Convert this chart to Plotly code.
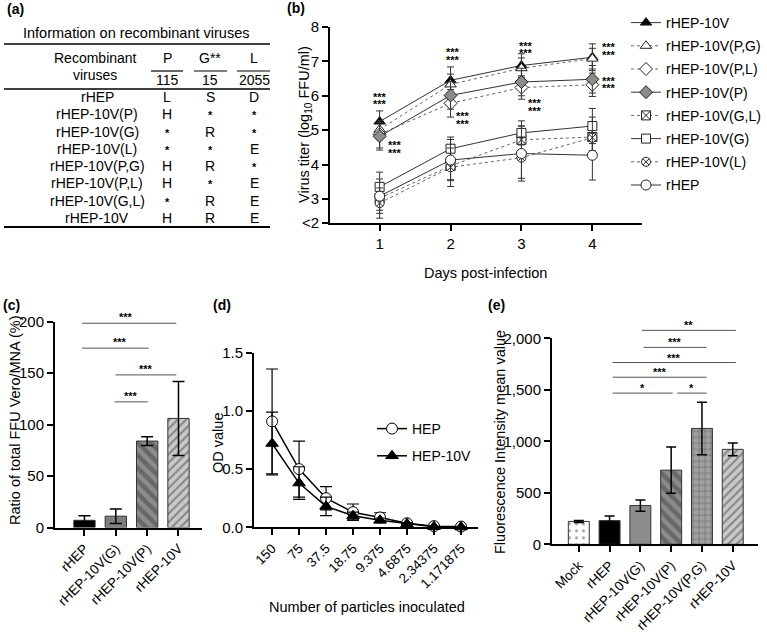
import plotly.graph_objects as go

W, H = 767, 634
FONT = "Liberation Sans, Arial, sans-serif"

def fx(px):
    return px / W

def fy(py):
    return 1 - py / H

# ---------------- (a) table data ----------------
table_title = "Information on recombinant viruses"
viruses = ["rHEP", "rHEP-10V(P)", "rHEP-10V(G)", "rHEP-10V(L)",
           "rHEP-10V(P,G)", "rHEP-10V(P,L)", "rHEP-10V(G,L)", "rHEP-10V"]
gene_headers = ["P", "G**", "L"]
gene_positions = ["115", "15", "2055"]
col_P = ["L", "H", "*", "*", "H", "H", "*", "H"]
col_G = ["S", "*", "R", "*", "R", "*", "R", "R"]
col_L = ["D", "*", "*", "E", "*", "E", "E", "E"]

# ---------------- (b) growth curves ----------------
days = [1, 2, 3, 4]
b_names = ["rHEP-10V", "rHEP-10V(P,G)", "rHEP-10V(P,L)", "rHEP-10V(P)",
           "rHEP-10V(G,L)", "rHEP-10V(G)", "rHEP-10V(L)", "rHEP"]
b_values = {
    "rHEP-10V":      [5.25, 6.45, 6.88, 7.12],
    "rHEP-10V(P,G)": [5.02, 6.33, 6.80, 7.08],
    "rHEP-10V(P,L)": [4.88, 5.78, 6.24, 6.32],
    "rHEP-10V(P)":   [4.82, 6.01, 6.40, 6.48],
    "rHEP-10V(G,L)": [3.02, 3.96, 4.72, 4.80],
    "rHEP-10V(G)":   [3.35, 4.46, 4.92, 5.12],
    "rHEP-10V(L)":   [2.88, 3.92, 4.20, 4.78],
    "rHEP":          [3.08, 4.13, 4.32, 4.27],
}
b_errors = {
    "rHEP-10V":      [0.31, 0.39, 0.34, 0.39],
    "rHEP-10V(P,G)": [0.25, 0.30, 0.30, 0.30],
    "rHEP-10V(P,L)": [0.40, 0.40, 0.34, 0.34],
    "rHEP-10V(P)":   [0.40, 0.40, 0.40, 0.40],
    "rHEP-10V(G,L)": [0.35, 0.40, 0.40, 0.40],
    "rHEP-10V(G)":   [0.43, 0.34, 0.35, 0.51],
    "rHEP-10V(L)":   [0.44, 0.56, 0.60, 0.60],
    "rHEP":          [0.50, 0.60, 0.80, 0.72],
}
b_yticks = [2.3, 3, 4, 5, 6, 7, 8]
b_yticktext = ["&lt;2", "3", "4", "5", "6", "7", "8"]
# significance marks (day position, star rows in log10 units)
b_sig_x = [1.0, 1.21, 2.03, 2.17, 3.06, 3.19, 4.23, 4.23]
b_sig_y = [[6.07, 5.87], [4.68, 4.43], [7.38, 7.15], [5.52, 5.29],
           [7.55, 7.34], [5.90, 5.67], [7.52, 7.29], [6.54, 6.33]]

# ---------------- (c) ratio bars ----------------
c_cats = ["rHEP", "rHEP-10V(G)", "rHEP-10V(P)", "rHEP-10V"]
c_vals = [7, 11, 84, 106]
c_errs = [4.5, 7, 4.2, 36]
# (start index, end index, level, star x, label)
c_sig = [(-0.08, 2.93, 198.5, 1.31, "***"), (-0.08, 2.05, 174.3, 1.12, "***"),
         (0.99, 2.93, 148.3, 1.96, "***"), (0.96, 2.02, 122.1, 1.49, "***")]

# ---------------- (d) OD curves ----------------
d_cats = ["150", "75", "37.5", "18.75", "9.375", "4.6875", "2.34375", "1.171875"]
d_hep = [0.91, 0.50, 0.25, 0.13, 0.085, 0.035, 0.01, 0.006]
d_hep_err = [0.45, 0.24, 0.10, 0.07, 0.04, 0.01, 0.005, 0.003]
d_hep10v = [0.72, 0.38, 0.18, 0.10, 0.06, 0.03, 0.005, 0.002]
d_hep10v_err = [0.27, 0.14, 0.08, 0.03, 0.02, 0.01, 0.004, 0.002]

# ---------------- (e) fluorescence bars ----------------
e_cats = ["Mock", "rHEP", "rHEP-10V(G)", "rHEP-10V(P)", "rHEP-10V(P,G)", "rHEP-10V"]
e_vals = [222, 230, 376, 720, 1125, 922]
e_errs = [10, 44, 55, 225, 255, 62]
e_sig = [(2.05, 5.1, 2077, "**"), (2.1, 4.15, 1912, "***"), (1.1, 5.1, 1765, "***"),
         (1.1, 4.15, 1622, "***"), (1.1, 3.05, 1468, "*"), (3.2, 4.15, 1468, "*")]

# axis placement (pixels) and ranges
B_X, B_Y = (330, 642), (223, 27)
B_XR, B_YR = [0.3, 4.7], [2.3, 8]
C_X, C_Y = (55, 202), (527.5, 321.7)
C_XR, C_YR = [-0.94, 3.75], [0, 200]
D_X, D_Y = (254, 478), (527.3, 352.7)
D_XR, D_YR = [-0.67, 7.63], [0, 1.5]
E_X, E_Y = (552, 758), (544.3, 338.3)
E_XR, E_YR = [-0.87, 5.82], [0, 2000]

def ydata_to_paper(v, ypx, yr):
    d0, d1 = fy(ypx[0]), fy(ypx[1])
    return d0 + (v - yr[0]) / (yr[1] - yr[0]) * (d1 - d0)

fig = go.Figure()

# ---- (b) traces ----
b_style = {
    "rHEP-10V":      dict(symbol="triangle-up", color="black", size=10, dash="solid"),
    "rHEP-10V(P,G)": dict(symbol="triangle-up", color="white", size=10, dash="dot"),
    "rHEP-10V(P,L)": dict(symbol="diamond", color="white", size=10, dash="dot"),
    "rHEP-10V(P)":   dict(symbol="diamond", color="#8c8c8c", size=10, dash="solid"),
    "rHEP-10V(G,L)": dict(symbol="square-x", color="white", size=9, dash="dot"),
    "rHEP-10V(G)":   dict(symbol="square", color="white", size=9, dash="solid"),
    "rHEP-10V(L)":   dict(symbol="circle-x", color="white", size=9, dash="dot"),
    "rHEP":          dict(symbol="circle", color="white", size=10, dash="solid"),
}
for i, name in enumerate(b_names):
    st = b_style[name]
    fig.add_trace(go.Scatter(
        x=days, y=b_values[name], name=name, mode="lines+markers",
        xaxis="x", yaxis="y", legend="legend", legendgroup=name,
        legendrank=i + 1,
        line=dict(color="#333333" if st["dash"] == "solid" else "#666666",
                  width=1, dash=st["dash"]),
        marker=dict(symbol=st["symbol"], color=st["color"], size=st["size"],
                    line=dict(color="#222222", width=1)),
        error_y=dict(type="data", array=b_errors[name], color="#333333",
                     thickness=1, width=3.5),
        cliponaxis=False,
    ))

# ---- (c) bars ----
fig.add_trace(go.Bar(
    x=c_cats, y=c_vals, xaxis="x2", yaxis="y2", showlegend=False, width=0.68,
    marker=dict(
        color=["black", "#7f7f7f", "#8c8c8c", "#c9c9c9"],
        line=dict(color="#333333", width=1),
        pattern=dict(shape=["", "", "\\", "/"],
                     fgcolor=["black", "#7f7f7f", "black", "white"],
                     bgcolor=["black", "#7f7f7f", "#9a9a9a", "#c9c9c9"],
                     size=[8, 8, 9, 6], solidity=[0.3, 0.3, 0.5, 0.35],
                     fillmode="overlay"),
    ),
    error_y=dict(type="data", array=c_errs, color="black", thickness=1.5, width=6),
))

# ---- (d) lines ----
fig.add_trace(go.Scatter(
    x=d_cats, y=d_hep, name="HEP", mode="lines+markers", xaxis="x3", yaxis="y3",
    legend="legend2", legendgroup="HEP",
    line=dict(color="black", width=1.5),
    marker=dict(symbol="circle", color="white", size=11, line=dict(color="black", width=1)),
    error_y=dict(type="data", array=d_hep_err, color="black", thickness=1.2, width=6),
    cliponaxis=False,
))
fig.add_trace(go.Scatter(
    x=d_cats, y=d_hep10v, name="HEP-10V", mode="lines+markers", xaxis="x3", yaxis="y3",
    legend="legend2", legendgroup="HEP-10V",
    line=dict(color="black", width=1.5),
    marker=dict(symbol="triangle-up", color="black", size=11, line=dict(color="black", width=1)),
    error_y=dict(type="data", array=d_hep10v_err, color="black", thickness=1.2, width=6),
    cliponaxis=False,
))

# ---- (e) bars ----
fig.add_trace(go.Bar(
    x=e_cats, y=e_vals, xaxis="x4", yaxis="y4", showlegend=False, width=0.68,
    marker=dict(
        color=["white", "black", "#8c8c8c", "#8c8c8c", "#a0a0a0", "#c9c9c9"],
        line=dict(color="#333333", width=1),
        pattern=dict(shape=[".", "", "", "\\", "+", "/"],
                     fgcolor=["#222222", "black", "#8c8c8c", "black", "white", "white"],
                     bgcolor=["white", "black", "#8c8c8c", "#9a9a9a", "#a0a0a0", "#c9c9c9"],
                     size=[7, 8, 8, 9, 6, 6], solidity=[0.15, 0.3, 0.3, 0.5, 0.25, 0.35],
                     fillmode="overlay"),
    ),
    error_y=dict(type="data", array=e_errs, color="black", thickness=1.5, width=5),
))

shapes = []
annotations = []

def ann(x, y, text, size=14, xref="paper", yref="paper", xanchor="center",
        yanchor="middle", bold=False, angle=0, color="black"):
    annotations.append(dict(
        x=x, y=y, xref=xref, yref=yref, text=f"<b>{text}</b>" if bold else text,
        showarrow=False, xanchor=xanchor, yanchor=yanchor, textangle=angle,
        font=dict(family=FONT, size=size, color=color)))

def hline(x0, x1, y, width=1.0, xref="paper", yref="paper", color="black"):
    shapes.append(dict(type="line", x0=x0, x1=x1, y0=y, y1=y, xref=xref, yref=yref,
                       line=dict(color=color, width=width)))

# ---- (a) table ----
ann(fx(5), fy(9), "(a)", size=14, xanchor="left", bold=True)
ann(fx(136), fy(33), table_title, size=14.5)
hline(fx(4), fx(270), fy(44), 1.5)
ann(fx(95), fy(58), "Recombinant")
ann(fx(95), fy(75), "viruses")
col_x = [167, 210, 254]
seg = [(151, 183), (194, 227), (237, 270)]
for j in range(3):
    ann(fx(col_x[j]), fy(58), gene_headers[j])
    hline(fx(seg[j][0]), fx(seg[j][1]), fy(71), 1.2)
    ann(fx(col_x[j]), fy(80), gene_positions[j])
hline(fx(4), fx(270), fy(89), 1.5)
for i, v in enumerate(viruses):
    yy = 97 + 17.3 * i
    ann(fx(97), fy(yy), v)
    for j, col in enumerate([col_P, col_G, col_L]):
        txt = col[i]
        if txt == "*":
            ann(fx(col_x[j]), fy(yy + 1), "*", size=11, bold=True)
        else:
            ann(fx(col_x[j]), fy(yy), txt)
hline(fx(4), fx(270), fy(227), 2)

STAR = 11

# ---- (b) labels ----
ann(fx(285), fy(8), "(b)", size=14, xanchor="left", bold=True)
ann(fx(305), fy(125), "Virus titer (log<sub>10</sub> FFU/ml)", size=14.5, angle=-90)
ann(fx(486), fy(273), "Days post-infection", size=14.5)
for xs, ys in zip(b_sig_x, b_sig_y):
    for yv in ys:
        ann(xs, yv - 0.1, "***", size=STAR, bold=True, xref="x", yref="y")

# ---- (c) labels ----
ann(fx(1), fy(305), "(c)", size=14, xanchor="left", bold=True)
ann(fx(15), fy(420), "Ratio of total FFU Vero/MNA (%)", size=14.5, angle=-90)
for a, b, yv, sx, s in c_sig:
    yp = ydata_to_paper(yv, C_Y, C_YR)
    hline(a, b, yp, 1, xref="x2", yref="paper", color="#555555")
    ann(sx, yp + 6 / H, s, size=STAR, bold=True, xref="x2", yref="paper")

# ---- (d) labels ----
ann(fx(211), fy(305), "(d)", size=14, xanchor="left", bold=True)
ann(fx(218), fy(443), "OD value", size=14.5, angle=-90)
ann(fx(367), fy(607), "Number of particles inoculated", size=14.5)

# ---- (e) labels ----
ann(fx(486), fy(305), "(e)", size=14, xanchor="left", bold=True)
ann(fx(500), fy(442), "Fluorescence Intensity mean value", size=14.5, angle=-90)
for a, b, yv, s in e_sig:
    yp = ydata_to_paper(yv, E_Y, E_YR)
    hline(a, b, yp, 1, xref="x4", yref="paper", color="#555555")
    ann((a + b) / 2, yp + 5 / H, s, size=STAR, bold=True, xref="x4", yref="paper")

axis_common = dict(showline=True, linecolor="black", linewidth=2, ticks="outside",
                   ticklen=6, tickwidth=2, tickcolor="black", showgrid=False,
                   zeroline=False, mirror=False,
                   tickfont=dict(family=FONT, size=15, color="black"))
rot_font = dict(family=FONT, size=13.5, color="black")

fig.update_layout(
    width=W, height=H, margin=dict(l=0, r=0, t=0, b=0, pad=0, autoexpand=False),
    paper_bgcolor="white", plot_bgcolor="rgba(0,0,0,0)",
    font=dict(family=FONT, size=14, color="black"),
    barmode="group",
    xaxis=dict(axis_common, domain=[fx(B_X[0]), fx(B_X[1])], range=B_XR,
               tickvals=days, anchor="y"),
    yaxis=dict(axis_common, domain=[fy(B_Y[0]), fy(B_Y[1])], range=B_YR,
               tickvals=b_yticks, ticktext=b_yticktext, anchor="x"),
    xaxis2=dict(axis_common, domain=[fx(C_X[0]), fx(C_X[1])], range=C_XR,
                type="category", tickangle=-45, anchor="y2", tickfont=rot_font),
    yaxis2=dict(axis_common, domain=[fy(C_Y[0]), fy(C_Y[1])], range=C_YR,
                tickvals=[0, 50, 100, 150, 200], anchor="x2"),
    xaxis3=dict(axis_common, domain=[fx(D_X[0]), fx(D_X[1])], range=D_XR,
                type="category", tickangle=-45, anchor="y3", tickfont=rot_font),
    yaxis3=dict(axis_common, domain=[fy(D_Y[0]), fy(D_Y[1])], range=D_YR,
                tickvals=[0, 0.5, 1.0, 1.5], tickformat=".1f", anchor="x3"),
    xaxis4=dict(axis_common, domain=[fx(E_X[0]), fx(E_X[1])], range=E_XR,
                type="category", tickangle=-45, anchor="y4", tickfont=rot_font),
    yaxis4=dict(axis_common, domain=[fy(E_Y[0]), fy(E_Y[1])], range=E_YR,
                tickvals=[0, 500, 1000, 1500, 2000], tickformat=",", anchor="x4"),
    legend=dict(x=fx(626), y=fy(7), xanchor="left", yanchor="top",
                font=dict(family=FONT, size=14, color="black"),
                bgcolor="rgba(0,0,0,0)", tracegroupgap=2, itemwidth=30),
    legend2=dict(x=fx(372), y=fy(413), xanchor="left", yanchor="top",
                 font=dict(family=FONT, size=14, color="black"),
                 bgcolor="rgba(0,0,0,0)", tracegroupgap=6, itemwidth=30),
    shapes=shapes, annotations=annotations,
)

fig.write_html("out.html", config={"displayModeBar": False},
               post_script="document.body.style.margin='0px';")
